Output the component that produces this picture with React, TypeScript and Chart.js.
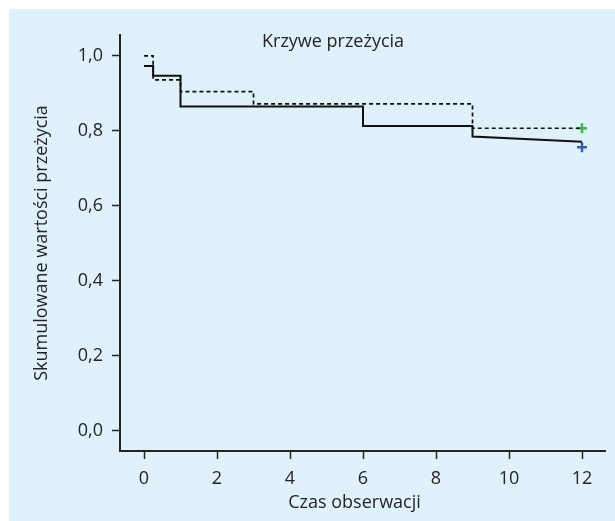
import React, { useEffect, useRef } from "react";
import { Chart, registerables } from "chart.js";

Chart.register(...registerables);

// Survival curve vertices (time, cumulative survival)
const solidTimes = [0, 0.25, 0.25, 1, 1, 6, 6, 9, 9, 12];
const solidSurvival = [0.973, 0.973, 0.947, 0.947, 0.865, 0.865, 0.813, 0.813, 0.785, 0.771];

const dashedTimes = [0, 0.25, 0.25, 1, 1, 3, 3, 9, 9, 12];
const dashedSurvival = [1.0, 1.0, 0.936, 0.936, 0.905, 0.905, 0.872, 0.872, 0.807, 0.807];

// Censoring markers at end of observation
const censorTimes = [12, 12];
const censorValues = [0.807, 0.756];
const censorColors = ["#3BB54A", "#3F5BA8"];

const xTickValues = [0, 2, 4, 6, 8, 10, 12];
const yTickValues = [0, 0.2, 0.4, 0.6, 0.8, 1.0];

const chartTitle = "Krzywe przeżycia";
const xTitle = "Czas obserwacji";
const yTitle = "Skumulowane wartości przeżycia";

const FONT = "'Open Sans', 'Noto Sans', sans-serif";
const INK = "#262324";
const FS = 18;

const titlePlugin = {
  id: "innerTitles",
  afterDraw(chart: any) {
    const ctx = chart.ctx;
    const area = chart.chartArea;
    ctx.save();
    ctx.font = `${FS}px ${FONT}`;
    ctx.fillStyle = INK;
    ctx.textBaseline = "middle";
    ctx.textAlign = "left";
    ctx.fillText(chartTitle, 253, 33);
    ctx.textAlign = "center";
    ctx.fillText(xTitle, (area.left + area.right) / 2 - 8, 494);
    ctx.restore();
  },
};

export default function App() {
  const ref = useRef<HTMLCanvasElement | null>(null);

  useEffect(() => {
    if (!ref.current) return;
    const toPts = (xs: number[], ys: number[]) => xs.map((x, i) => ({ x, y: ys[i] }));

    const chart = new Chart(ref.current, {
      type: "line",
      data: {
        datasets: [
          {
            data: toPts(dashedTimes, dashedSurvival),
            borderColor: "#111",
            borderWidth: 1.7,
            borderDash: [4, 3],
            pointRadius: 0,
            tension: 0,
            fill: false,
          },
          {
            data: toPts(solidTimes, solidSurvival),
            borderColor: "#111",
            borderWidth: 2,
            pointRadius: 0,
            tension: 0,
            fill: false,
          },
          ...censorTimes.map((t, i) => ({
            data: [{ x: t, y: censorValues[i] }],
            showLine: false,
            pointStyle: "cross",
            pointRadius: 5,
            pointBorderWidth: 2.5,
            pointBorderColor: censorColors[i],
            pointBackgroundColor: censorColors[i],
            borderColor: censorColors[i],
          })),
        ] as any,
      },
      options: {
        animation: false,
        responsive: false,
        events: [],
        layout: { padding: { top: 26, right: 10, left: 0, bottom: 0 } },
        plugins: {
          legend: { display: false },
          tooltip: { enabled: false },
          title: { display: false },
        },
        scales: {
          x: {
            type: "linear",
            min: -0.658,
            max: 12.63,
            afterBuildTicks: (s: any) => {
              s.ticks = xTickValues.map((v) => ({ value: v }));
            },
            afterFit: (s: any) => {
              s.height = 70;
            },
            border: { display: true, color: INK, width: 2 },
            grid: {
              drawOnChartArea: false,
              drawTicks: true,
              tickLength: 8,
              tickColor: INK,
              tickWidth: 1.5,
            },
            ticks: {
              color: INK,
              font: { family: FONT, size: FS },
              padding: 9,
              maxRotation: 0,
              autoSkip: false,
              callback: (v: any) => String(v),
            },
            title: { display: false },
          },
          y: {
            type: "linear",
            min: -0.055,
            max: 1.056,
            afterBuildTicks: (s: any) => {
              s.ticks = yTickValues.map((v) => ({ value: v }));
            },
            afterFit: (s: any) => {
              s.width = 111;
            },
            border: { display: true, color: INK, width: 2 },
            grid: {
              drawOnChartArea: false,
              drawTicks: true,
              tickLength: 8,
              tickColor: INK,
              tickWidth: 1.5,
            },
            ticks: {
              color: INK,
              font: { family: FONT, size: FS },
              padding: 9,
              autoSkip: false,
              callback: (v: any) => Number(v).toFixed(1).replace(".", ","),
            },
            title: {
              display: true,
              text: yTitle,
              color: INK,
              font: { family: FONT, size: FS },
              padding: { top: 22, bottom: 0 },
            },
          },
        },
      },
      plugins: [titlePlugin],
    });

    return () => chart.destroy();
  }, []);

  return (
    <div
      style={{
        position: "fixed",
        left: 9,
        top: 9,
        width: 606,
        height: 512,
        background: "#DFF1FB",
      }}
    >
      <canvas ref={ref} width={606} height={512} style={{ display: "block" }} />
    </div>
  );
}
